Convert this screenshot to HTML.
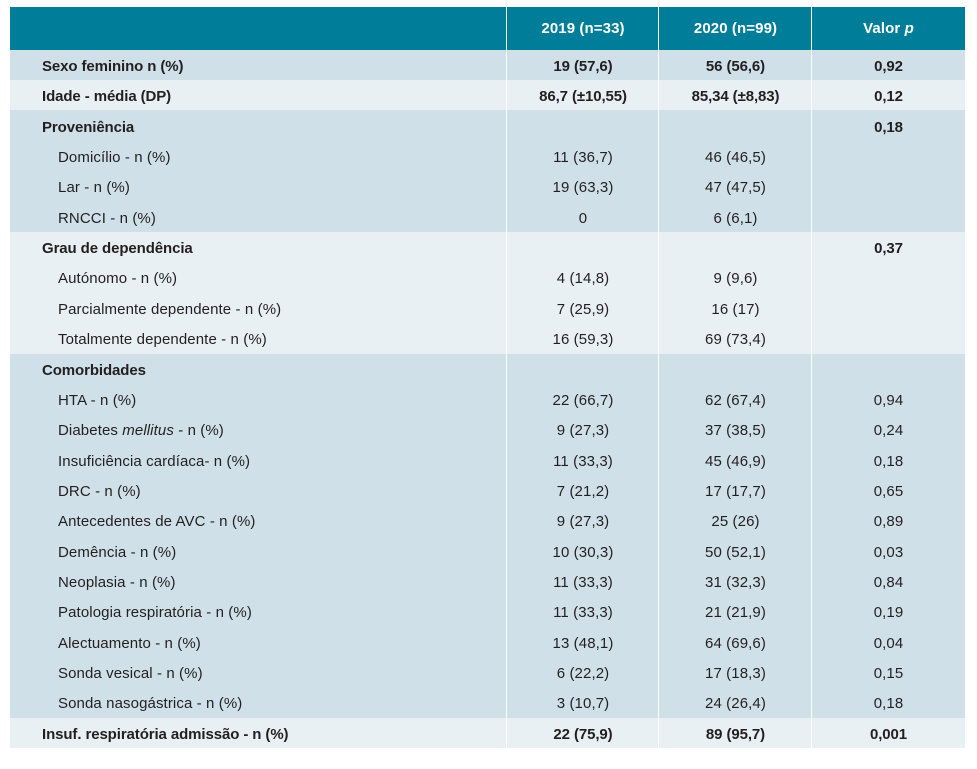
<!DOCTYPE html>
<html><head><meta charset="utf-8"><style>
body{margin:0;background:#fff;width:977px;height:769px;position:relative;font-family:"Liberation Sans",Arial,sans-serif;color:#231f20;overflow:hidden}
.hdr{position:absolute;left:10px;top:7px;width:955px;height:43px;background:#007e99}
.g{position:absolute;left:10px;width:955px}
.d{background:#d0e0e8}.l{background:#e8f0f4}
.vl{position:absolute;width:1px;background:#fff;top:7px;height:741px}
.r{position:absolute;left:10px;width:955px;height:30px;font-size:15px;line-height:30px;letter-spacing:0.1px}
.r span{position:absolute;white-space:nowrap;top:2px}
.a{left:32px}.s{left:48px}
.c1,.c2,.c3{text-align:center}
.c1{left:497px;width:152px}.c2{left:649px;width:153px}.c3{left:802px;width:153px}
b{font-weight:bold;letter-spacing:-0.1px}
.h span{color:#fff;font-weight:bold;line-height:43px;top:0}
</style></head><body>
<div class="hdr"></div>
<div class="g d" style="top:50px;height:30px"></div>
<div class="g l" style="top:80px;height:30px"></div>
<div class="g d" style="top:110px;height:122px"></div>
<div class="g l" style="top:232px;height:122px"></div>
<div class="g d" style="top:354px;height:364px"></div>
<div class="g l" style="top:718px;height:30px"></div>
<div class="vl" style="left:506px"></div><div class="vl" style="left:658px"></div><div class="vl" style="left:811px"></div>
<div class="r h" style="top:7px;height:43px"><span class="c1">2019 (n=33)</span><span class="c2">2020 (n=99)</span><span class="c3">Valor <i>p</i></span></div>
<div class="r" style="top:50px"><span class="a"><b>Sexo feminino n (%)</b></span><span class="c1"><b>19 (57,6)</b></span><span class="c2"><b>56 (56,6)</b></span><span class="c3"><b>0,92</b></span></div>
<div class="r" style="top:80px"><span class="a"><b>Idade - média (DP)</b></span><span class="c1"><b>86,7 (±10,55)</b></span><span class="c2"><b>85,34 (±8,83)</b></span><span class="c3"><b>0,12</b></span></div>
<div class="r" style="top:111px"><span class="a"><b>Proveniência</b></span><span class="c3"><b>0,18</b></span></div>
<div class="r" style="top:141px"><span class="s">Domicílio - n (%)</span><span class="c1">11 (36,7)</span><span class="c2">46 (46,5)</span></div>
<div class="r" style="top:171px"><span class="s">Lar - n (%)</span><span class="c1">19 (63,3)</span><span class="c2">47 (47,5)</span></div>
<div class="r" style="top:202px"><span class="s">RNCCI - n (%)</span><span class="c1">0</span><span class="c2">6 (6,1)</span></div>
<div class="r" style="top:232px"><span class="a"><b>Grau de dependência</b></span><span class="c3"><b>0,37</b></span></div>
<div class="r" style="top:262px"><span class="s">Autónomo - n (%)</span><span class="c1">4 (14,8)</span><span class="c2">9 (9,6)</span></div>
<div class="r" style="top:293px"><span class="s">Parcialmente dependente - n (%)</span><span class="c1">7 (25,9)</span><span class="c2">16 (17)</span></div>
<div class="r" style="top:323px"><span class="s">Totalmente dependente - n (%)</span><span class="c1">16 (59,3)</span><span class="c2">69 (73,4)</span></div>
<div class="r" style="top:354px"><span class="a"><b>Comorbidades</b></span></div>
<div class="r" style="top:384px"><span class="s">HTA - n (%)</span><span class="c1">22 (66,7)</span><span class="c2">62 (67,4)</span><span class="c3">0,94</span></div>
<div class="r" style="top:414px"><span class="s">Diabetes <i>mellitus</i> - n (%)</span><span class="c1">9 (27,3)</span><span class="c2">37 (38,5)</span><span class="c3">0,24</span></div>
<div class="r" style="top:445px"><span class="s">Insuficiência cardíaca- n (%)</span><span class="c1">11 (33,3)</span><span class="c2">45 (46,9)</span><span class="c3">0,18</span></div>
<div class="r" style="top:475px"><span class="s">DRC - n (%)</span><span class="c1">7 (21,2)</span><span class="c2">17 (17,7)</span><span class="c3">0,65</span></div>
<div class="r" style="top:505px"><span class="s">Antecedentes de AVC - n (%)</span><span class="c1">9 (27,3)</span><span class="c2">25 (26)</span><span class="c3">0,89</span></div>
<div class="r" style="top:536px"><span class="s">Demência - n (%)</span><span class="c1">10 (30,3)</span><span class="c2">50 (52,1)</span><span class="c3">0,03</span></div>
<div class="r" style="top:566px"><span class="s">Neoplasia - n (%)</span><span class="c1">11 (33,3)</span><span class="c2">31 (32,3)</span><span class="c3">0,84</span></div>
<div class="r" style="top:596px"><span class="s">Patologia respiratória - n (%)</span><span class="c1">11 (33,3)</span><span class="c2">21 (21,9)</span><span class="c3">0,19</span></div>
<div class="r" style="top:627px"><span class="s">Alectuamento - n (%)</span><span class="c1">13 (48,1)</span><span class="c2">64 (69,6)</span><span class="c3">0,04</span></div>
<div class="r" style="top:657px"><span class="s">Sonda vesical - n (%)</span><span class="c1">6 (22,2)</span><span class="c2">17 (18,3)</span><span class="c3">0,15</span></div>
<div class="r" style="top:687px"><span class="s">Sonda nasogástrica - n (%)</span><span class="c1">3 (10,7)</span><span class="c2">24 (26,4)</span><span class="c3">0,18</span></div>
<div class="r" style="top:718px"><span class="a"><b>Insuf. respiratória admissão - n (%)</b></span><span class="c1"><b>22 (75,9)</b></span><span class="c2"><b>89 (95,7)</b></span><span class="c3"><b>0,001</b></span></div>
</body></html>
